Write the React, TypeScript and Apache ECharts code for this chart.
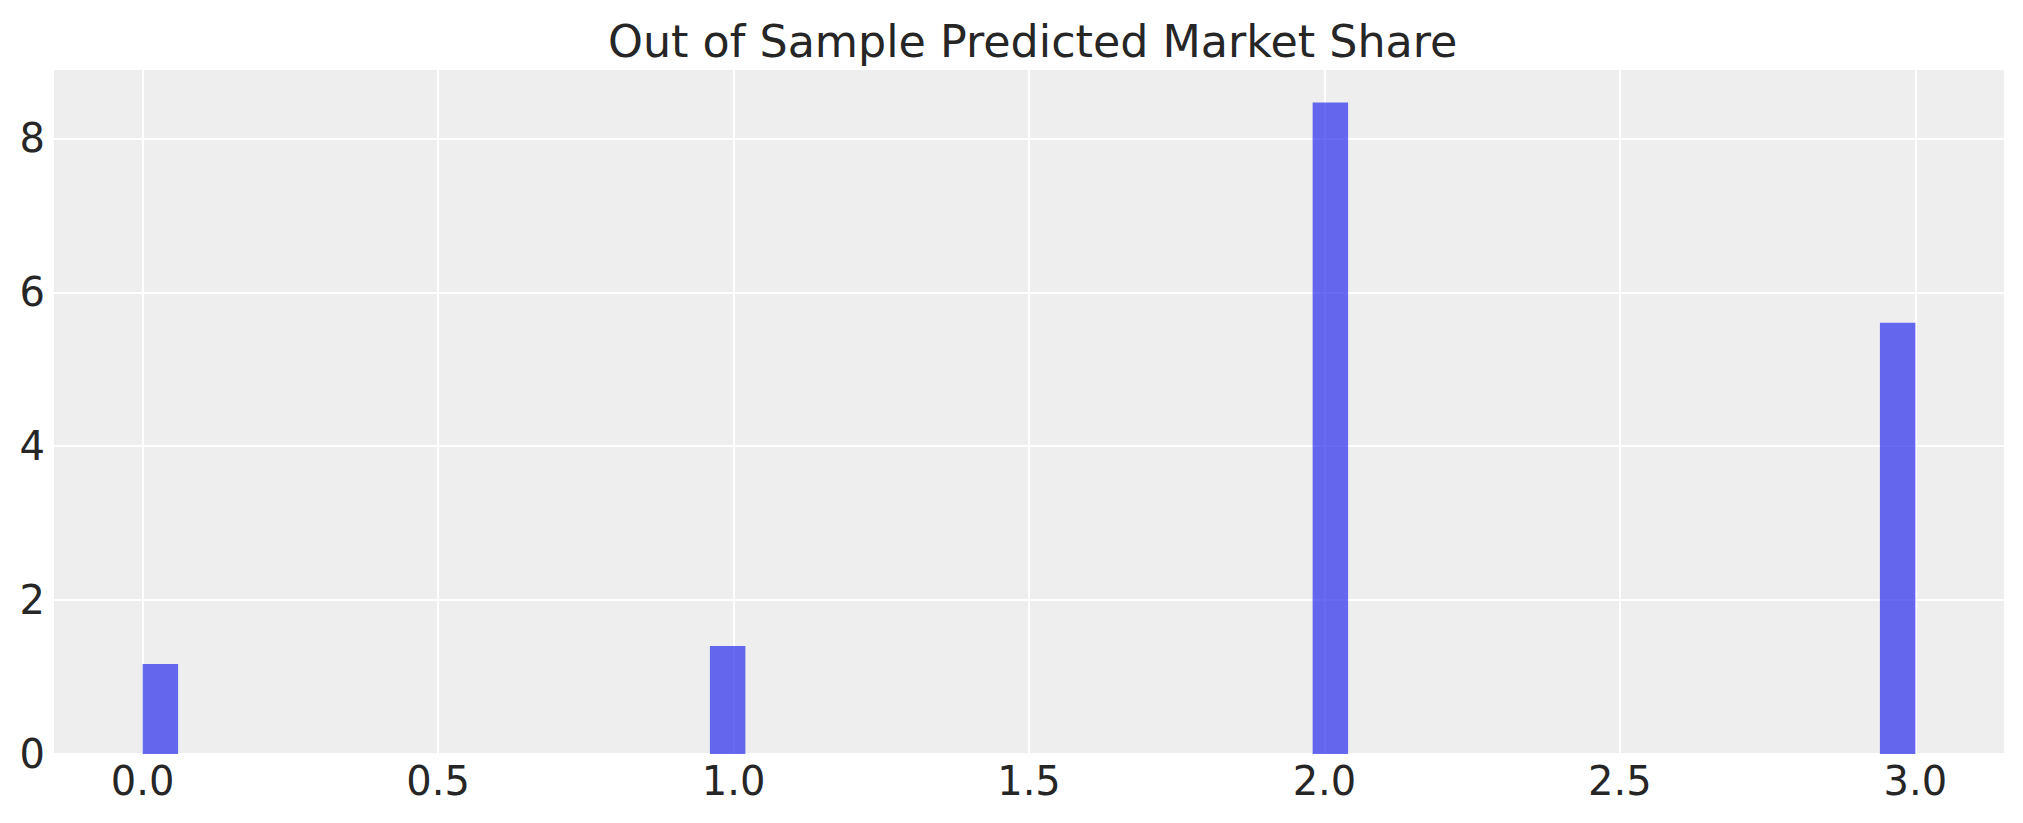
import React, { useEffect, useRef } from "react";
import * as echarts from "echarts";

// Histogram bins (density)
const binLeft = [0.0, 0.96, 1.98, 2.94];
const binRight = [0.06, 1.02, 2.04, 3.0];
const density = [1.17, 1.404, 8.465, 5.605];

const xTicks = [0, 0.5, 1, 1.5, 2, 2.5, 3];
const xMin = -0.15;
const xMax = 3.15;
const yMax = 8.888;
const titleText = "Out of Sample Predicted Market Share";

const FONT = "DejaVu Sans";
const TEXT = "#262626";

export default function App() {
  const ref = useRef<HTMLDivElement>(null);
  useEffect(() => {
    if (!ref.current) return;
    const chart = echarts.init(ref.current, null, { renderer: "svg" });
    const data = binLeft.map((l, i) => [l, binRight[i], density[i]]);
    chart.setOption({
      animation: false,
      textStyle: { fontFamily: FONT },
      title: {
        text: titleText,
        left: 603,
        top: 14,
        textStyle: { fontFamily: FONT, fontSize: 44.4, fontWeight: "normal", color: TEXT },
      },
      grid: {
        left: 54,
        right: 19,
        top: 70,
        bottom: 69,
        show: true,
        backgroundColor: "#eeeeee",
        borderWidth: 0,
      },
      xAxis: {
        type: "value",
        min: xMin,
        max: xMax,
        axisLine: { show: false },
        axisTick: { show: false, customValues: xTicks },
        axisLabel: {
          customValues: xTicks,
          formatter: (v: number) => v.toFixed(1),
          fontFamily: FONT,
          fontSize: 40,
          color: TEXT,
          margin: 7,
        },
        splitLine: { show: true, lineStyle: { color: "#ffffff", width: 2 } },
      },
      yAxis: {
        type: "value",
        min: 0,
        max: yMax,
        interval: 2,
        axisLine: { show: false },
        axisTick: { show: false },
        axisLabel: {
          fontFamily: FONT,
          fontSize: 40,
          color: TEXT,
          margin: 9,
          showMaxLabel: false,
          formatter: (v: number) => (Math.abs(v % 2) < 1e-9 ? String(v) : ""),
        },
        splitLine: {
          show: true,
          showMaxLine: false,
          lineStyle: { color: "#ffffff", width: 2 },
        },
      },
      series: [
        {
          type: "custom",
          data,
          encode: { x: [0, 1], y: 2 },
          renderItem: (params: any, api: any) => {
            const x0 = api.value(0);
            const x1 = api.value(1);
            const h = api.value(2);
            const p0 = api.coord([x0, 0]);
            const p1 = api.coord([x1, h]);
            return {
              type: "rect",
              shape: { x: p0[0], y: p1[1], width: p1[0] - p0[0], height: p0[1] - p1[1] },
              style: { fill: "#2a2eec", opacity: 0.7 },
            };
          },
        },
      ],
    });
    return () => chart.dispose();
  }, []);
  return (
    <div
      ref={ref}
      style={{ position: "fixed", left: 0, top: 0, width: 2023, height: 823, background: "#ffffff" }}
    />
  );
}
